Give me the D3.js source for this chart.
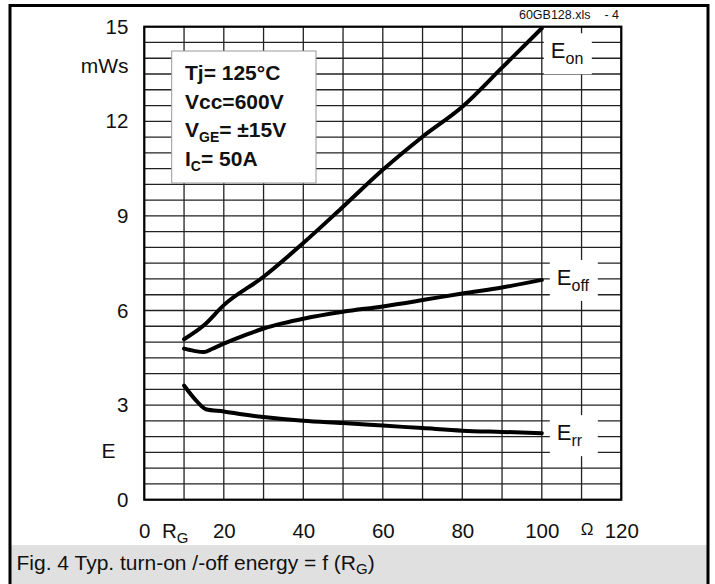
<!DOCTYPE html>
<meta charset="utf-8">
<script src="https://cdn.jsdelivr.net/npm/d3@7"></script>
<style>
  body { margin: 0; background: #fff; }
  text { font-family: "Liberation Sans", Arial, sans-serif; fill: #111; }
</style>
<body>
<script>

var width = 715
var height = 584

// gate resistance R_G (ohm) and energies (mWs)
var rgOn  = [10, 15, 20, 30, 40, 50, 60, 70, 80, 90, 100]
var eOn   = [5.09, 5.53, 6.17, 7.07, 8.14, 9.29, 10.46, 11.51, 12.46, 13.7, 14.95]
var rgOff = [10, 12.5, 15, 17, 20, 25, 30, 35, 40, 50, 60, 70, 80, 90, 100]
var eOff  = [4.79, 4.72, 4.68, 4.78, 4.95, 5.2, 5.43, 5.6, 5.74, 5.96, 6.13, 6.33, 6.54, 6.73, 6.97]
var rgRr  = [10, 13, 15.5, 20, 25, 30, 40, 50, 60, 70, 80, 90, 100]
var eRr   = [3.62, 3.15, 2.87, 2.8, 2.7, 2.62, 2.5, 2.43, 2.35, 2.27, 2.19, 2.15, 2.11]

var xTicks = [0, 20, 40, 60, 80, 100, 120]
var yTicks = [0, 3, 6, 9, 12, 15]
var legendLines = ["Tj= 125\u00b0C", "Vcc=600V", "V|GE|= \u00b115V", "I|C|= 50A"]

var x = d3.scaleLinear().domain([0, 120]).range([144.3, 621.3])
var y = d3.scaleLinear().domain([0, 15]).range([499.7, 26.7])

var svg = d3.select("body").append("svg")
            .attr("width", width)
            .attr("height", height)

// caption band
svg.append("rect").attr("x", 11).attr("y", 545).attr("width", 696).attr("height", 40)
   .attr("fill", "#e0e0e0")
// outer frame
svg.append("rect").attr("x", 10).attr("y", 5.5).attr("width", 698).attr("height", 580)
   .attr("fill", "none").attr("stroke", "#000").attr("stroke-width", 3)

// grid
var grid = svg.append("g").attr("stroke", "#222").attr("stroke-width", 1.3)
grid.selectAll(".v").data(x.ticks(12)).enter().append("line")
    .attr("x1", d => x(d)).attr("x2", d => x(d))
    .attr("y1", y(0)).attr("y2", y(15))
grid.selectAll(".h").data(y.ticks(30)).enter().append("line")
    .attr("x1", x(0)).attr("x2", x(120))
    .attr("y1", d => y(d)).attr("y2", d => y(d))

svg.append("rect").attr("x", x(0)).attr("y", y(15))
   .attr("width", x(120) - x(0)).attr("height", y(0) - y(15))
   .attr("fill", "none").attr("stroke", "#000").attr("stroke-width", 2.2)

// axes (labels only)
var yAxis = svg.append("g").attr("transform", "translate(" + x(0) + ",0)")
   .call(d3.axisLeft(y).tickValues(yTicks).tickSize(0).tickPadding(16))
yAxis.select(".domain").remove()
yAxis.selectAll("text").style("font-size", "20.5px").attr("fill", "#111")

var xAxis = svg.append("g").attr("transform", "translate(0," + y(0) + ")")
   .call(d3.axisBottom(x).tickValues(xTicks).tickSize(0).tickPadding(24))
xAxis.select(".domain").remove()
xAxis.selectAll("text").style("font-size", "20.5px").attr("fill", "#111")

svg.append("text").attr("x", 128.5).attr("y", 73).attr("text-anchor", "end")
   .style("font-size", "21px").text("mWs")
svg.append("text").attr("x", 115.5).attr("y", 458).attr("text-anchor", "end")
   .style("font-size", "21px").text("E")
var rg = svg.append("text").attr("x", 162).attr("y", 538).style("font-size", "20.5px")
rg.append("tspan").text("R")
rg.append("tspan").attr("dy", 5).style("font-size", "15px").text("G")
svg.append("text").attr("x", 587).attr("y", 535).attr("text-anchor", "middle")
   .style("font-size", "17px").text("\u03a9")

svg.append("text").attr("x", 619).attr("y", 19).attr("text-anchor", "end")
   .style("font-size", "12.5px").attr("xml:space", "preserve").text("60GB128.xls    - 4")

// conditions box
svg.append("rect").attr("x", 171.7).attr("y", 51).attr("width", 144.3).attr("height", 132)
   .attr("fill", "#fff").attr("stroke", "#999").attr("stroke-width", 1)
legendLines.forEach(function(s, i) {
  var t = svg.append("text").attr("x", 185).attr("y", 80 + i * 28.6)
             .style("font-size", "21px").style("font-weight", "bold")
  s.split("|").forEach(function(p, j) {
    var ts = t.append("tspan").text(p)
    if (j == 1) ts.attr("dy", 5).style("font-size", "14px")
    if (j == 2) ts.attr("dy", -5)
  })
})

// curves
var line = d3.line().x(d => x(d[0])).y(d => y(d[1])).curve(d3.curveMonotoneX)
var series = [
  {name: "on",  rg: rgOn,  e: eOn,  dx: 2, dy: 30},
  {name: "off", rg: rgOff, e: eOff, dx: 8, dy: 5},
  {name: "rr",  rg: rgRr,  e: eRr,  dx: 8, dy: 7}
]
series.forEach(function(s) {
  svg.append("path").attr("d", line(d3.zip(s.rg, s.e)))
     .attr("fill", "none").attr("stroke", "#000").attr("stroke-width", 4)
     .attr("stroke-linecap", "round").attr("stroke-linejoin", "round")

  var last = s.e[s.e.length - 1]
  var lx = x(100) + s.dx, ly = y(last) + s.dy
  var g = svg.append("g")
  var bg = g.append("rect").attr("fill", "#fff")
  var t = g.append("text").attr("x", lx + 7).attr("y", ly).style("font-size", "22px")
  t.append("tspan").text("E")
  t.append("tspan").attr("dy", 6).style("font-size", "16px").text(s.name)
  var b = t.node().getBBox()
  bg.attr("x", lx).attr("y", b.y - 5).attr("width", 48).attr("height", b.height + 12)
})

// caption
var cap = svg.append("text").attr("x", 16.5).attr("y", 570).style("font-size", "21px")
cap.append("tspan").text("Fig. 4 Typ. turn-on /-off energy = f (R")
cap.append("tspan").attr("dy", 4).style("font-size", "15px").text("G")
cap.append("tspan").attr("dy", -4).text(")")

</script>
</body>
